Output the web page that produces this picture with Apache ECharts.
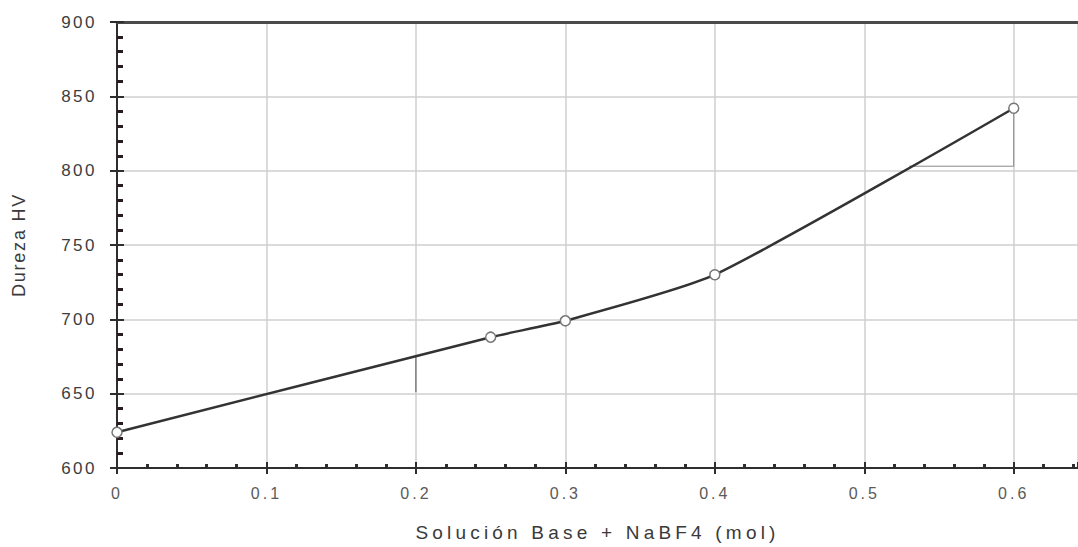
<!DOCTYPE html>
<html>
<head>
<meta charset="utf-8">
<script src="https://cdn.jsdelivr.net/npm/echarts@6/dist/echarts.min.js"></script>
<style>
  html, body { margin: 0; padding: 0; background: #fff; }
  #chart { width: 1078px; height: 547px; }
  /* wide letter spacing of the axis texts */
  #chart text { letter-spacing: 3px; }
  #chart text[style*="17px"], #chart text[font-size="17"] { letter-spacing: 2.5px; }
  #chart text[style*="19px"], #chart text[font-size="19"] { letter-spacing: 4.2px; }
  #chart text[style*="18px"], #chart text[font-size="18"] { letter-spacing: 1.8px; }
</style>
</head>
<body>
<div id="chart"></div>
<script>
// NaBF4 added to the base solution (mol) and measured Vickers hardness
const concentration = [0, 0.25, 0.3, 0.4, 0.6];
const hardness = [624, 688, 699, 730, 842];

// thin construction marks drawn on the plot
const guideAt02 = [[0.2, 676], [0.2, 651]];
const guideAt06 = [[0.53, 803], [0.6, 803], [0.6, 842]];

const FONT = '"Liberation Sans", Arial, sans-serif';
const X_MIN = 0, X_MAX = 0.643, Y_MIN = 600, Y_MAX = 900;

const chart = echarts.init(document.getElementById('chart'), null, { renderer: 'svg' });

const baseX = {
  type: 'value', min: X_MIN, max: X_MAX, interval: 0.1
};
const baseY = {
  type: 'value', min: Y_MIN, max: Y_MAX, interval: 50
};

chart.setOption({
  animation: false,
  backgroundColor: '#ffffff',
  grid: { left: 117, right: 0, top: 22, bottom: 79, containLabel: false },
  xAxis: [
    Object.assign({}, baseX, {
      position: 'bottom',
      name: 'Solución Base + NaBF4 (mol)',
      nameLocation: 'middle',
      nameGap: 55,
      nameTextStyle: { fontFamily: FONT, fontSize: 19, color: '#3a3a3a' },
      axisLine: { show: true, lineStyle: { color: '#2e2e2e', width: 2 } },
      axisTick: { show: true, inside: false, length: 6, lineStyle: { color: '#2e2e2e', width: 2 } },
      axisLabel: {
        showMaxLabel: false,
        margin: 17, fontFamily: FONT, fontSize: 16, color: '#5a5a5a',
        formatter: v => String(+v.toFixed(1))
      },
      splitLine: { show: true, lineStyle: { color: '#cfcfcf', width: 1.5 } }
    }),
    Object.assign({}, baseX, {
      position: 'bottom',
      axisLine: { show: false },
      axisLabel: { show: false },
      splitLine: { show: false },
      axisTick: { show: true, inside: true, length: 6, lineStyle: { color: '#2e2e2e', width: 2 } },
      minorTick: { show: true, splitNumber: 5, length: 4, lineStyle: { color: '#2e2e2e', width: 3 } }
    }),
    Object.assign({}, baseX, {
      position: 'top',
      axisLine: { show: true, lineStyle: { color: '#4a4a4a', width: 3 } },
      axisTick: { show: false },
      axisLabel: { show: false },
      splitLine: { show: false }
    })
  ],
  yAxis: [
    Object.assign({}, baseY, {
      position: 'left',
      name: 'Dureza HV',
      nameLocation: 'middle',
      nameGap: 89,
      nameRotate: 90,
      nameTextStyle: { fontFamily: FONT, fontSize: 18, color: '#3a3a3a' },
      axisLine: { show: true, lineStyle: { color: '#2e2e2e', width: 2 } },
      axisTick: { show: true, inside: false, length: 7, lineStyle: { color: '#2e2e2e', width: 2 } },
      axisLabel: { margin: 20, fontFamily: FONT, fontSize: 17, color: '#3d3d3d' },
      splitLine: { show: true, lineStyle: { color: '#cfcfcf', width: 1.5 } }
    }),
    Object.assign({}, baseY, {
      position: 'left',
      axisLine: { show: false },
      axisLabel: { show: false },
      splitLine: { show: false },
      axisTick: { show: true, inside: true, length: 7, lineStyle: { color: '#2e2e2e', width: 2 } },
      minorTick: { show: true, splitNumber: 5, length: 6, lineStyle: { color: '#2a1c1c', width: 3 } }
    })
  ],
  series: [
    {
      type: 'line',
      name: 'guideA',
      xAxisIndex: 0, yAxisIndex: 0,
      data: guideAt02,
      symbol: 'none',
      lineStyle: { color: '#555', width: 1 },
      silent: true, z: 2
    },
    {
      type: 'line',
      name: 'guideB',
      xAxisIndex: 0, yAxisIndex: 0,
      data: guideAt06,
      symbol: 'none',
      lineStyle: { color: '#888', width: 1 },
      silent: true, z: 2
    },
    {
      type: 'line',
      name: 'Dureza',
      xAxisIndex: 0, yAxisIndex: 0,
      data: concentration.map((x, i) => [x, hardness[i]]),
      smooth: 0.2,
      symbol: 'circle',
      symbolSize: 10,
      itemStyle: { color: '#ffffff', borderColor: '#777', borderWidth: 1.5 },
      lineStyle: { color: '#333', width: 2.5 },
      z: 5
    }
  ]
});
</script>
</body>
</html>
